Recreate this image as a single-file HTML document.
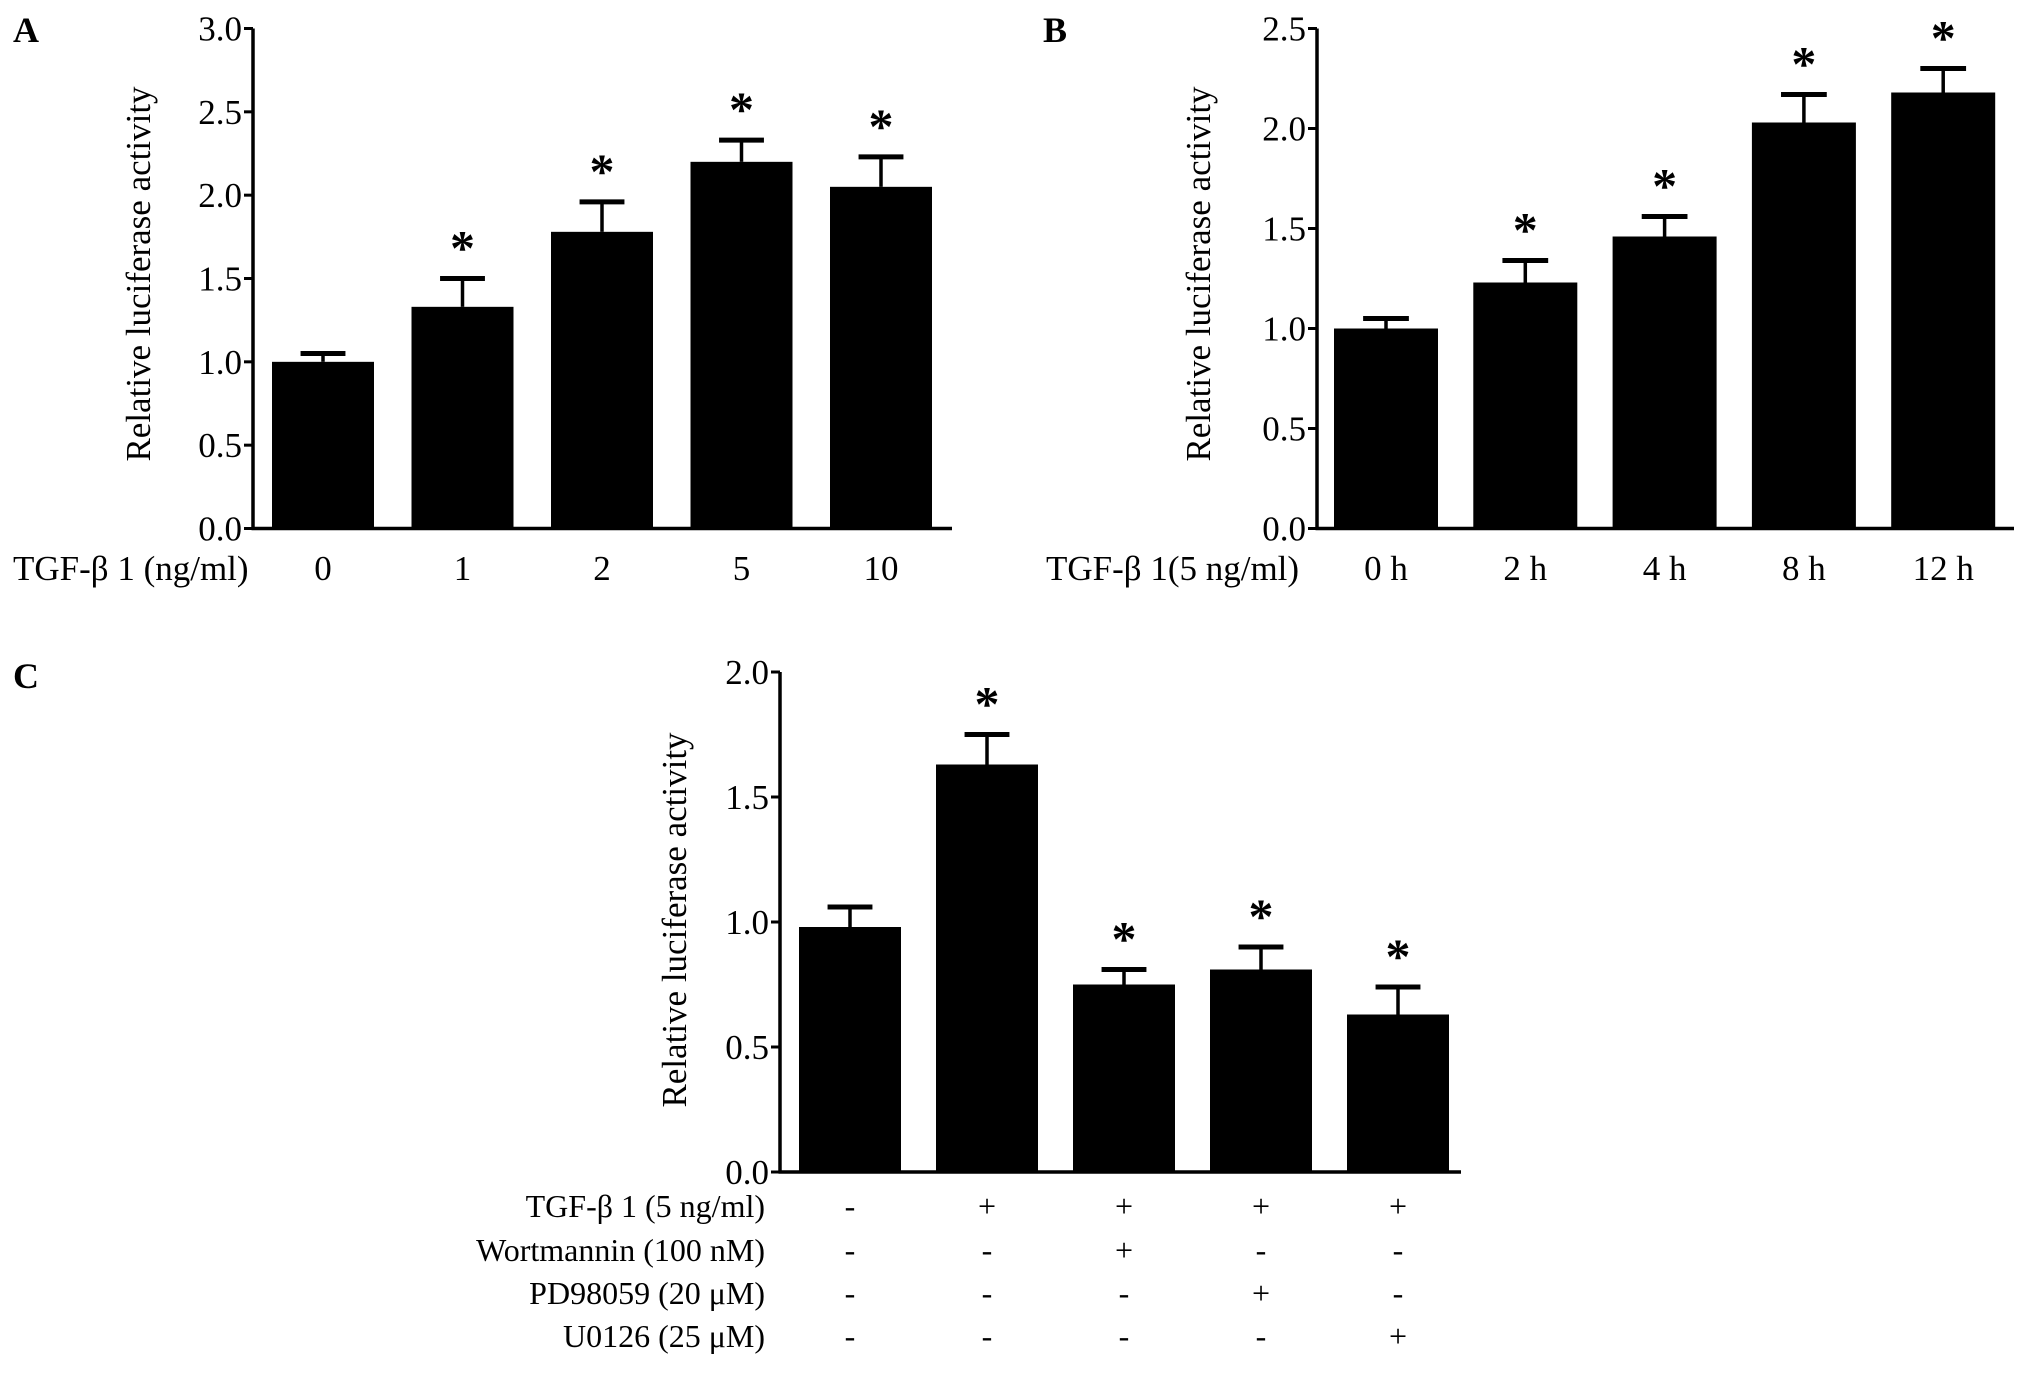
<!DOCTYPE html>
<html><head><meta charset="utf-8"><style>
body{margin:0;background:#fff}
svg text{font-family:"Liberation Serif",serif;fill:#000}
</style></head><body>
<svg id="s" width="2031" height="1368" xmlns="http://www.w3.org/2000/svg"></svg>
<script>
const aCats=["0","1","2","5","10"];
const aVals=[1.0,1.33,1.78,2.2,2.05];
const aErr=[0.05,0.17,0.18,0.13,0.18];
const aStar=[false,true,true,true,true];
const aTicks=["0.0","0.5","1.0","1.5","2.0","2.5","3.0"];
const bCats=["0 h","2 h","4 h","8 h","12 h"];
const bVals=[1.0,1.23,1.46,2.03,2.18];
const bErr=[0.05,0.11,0.1,0.14,0.12];
const bStar=[false,true,true,true,true];
const bTicks=["0.0","0.5","1.0","1.5","2.0","2.5"];
const cVals=[0.98,1.63,0.75,0.81,0.63];
const cErr=[0.08,0.12,0.06,0.09,0.11];
const cStar=[false,true,true,true,true];
const cTicks=["0.0","0.5","1.0","1.5","2.0"];
const cRowLabels=["TGF-β 1 (5 ng/ml)","Wortmannin (100 nM)","PD98059 (20 μM)","U0126 (25 μM)"];
const cRowMarks=[["-","+","+","+","+"],["-","-","+","-","-"],["-","-","-","+","-"],["-","-","-","-","+"]];

const S=document.getElementById('s');
function el(t,a,txt){const e=document.createElementNS('http://www.w3.org/2000/svg',t);for(const k in a)e.setAttribute(k,a[k]);if(txt!=null)e.textContent=txt;S.appendChild(e);return e;}

function panel(p,vals,err,star,ticks,cats,name){
  const max=parseFloat(ticks[ticks.length-1]);
  const y=v=>p.y0-(v/max)*(p.y0-p.top);
  const x=i=>p.first+i*p.step;
  let e=el('line',{x1:p.ax,y1:p.top,x2:p.ax,y2:p.y0+1.5,stroke:'#000','stroke-width':3.5});
  
  e=el('line',{x1:p.ax-1.5,y1:p.y0,x2:p.xend,y2:p.y0,stroke:'#000','stroke-width':3.5});
  
  ticks.forEach(t=>{
    const v=parseFloat(t),yy=y(v);
    e=el('line',{x1:p.ax-9,y1:yy,x2:p.ax,y2:yy,stroke:'#000','stroke-width':3});
    
    e=el('text',{x:p.ax-11,y:yy+12,'text-anchor':'end','font-size':35},t);
    
  });
  vals.forEach((v,i)=>{
    const cx=x(i),w=p.bw,top=y(v),et=y(v+err[i]);
    e=el('line',{x1:cx,y1:top,x2:cx,y2:et,stroke:'#000','stroke-width':3.5});
    
    e=el('line',{x1:cx-w*0.22,y1:et,x2:cx+w*0.22,y2:et,stroke:'#000','stroke-width':5});
    
    e=el('rect',{x:cx-w/2,y:top,width:w,height:p.y0-top,fill:'#000'});
    
    if(star[i]){e=el('text',{x:cx,y:et-14,'text-anchor':'middle','font-size':50,'font-weight':'bold','font-family':'Liberation Sans, sans-serif'},'*');
      }
    if(cats){e=el('text',{x:cx,y:p.labY,'text-anchor':'middle','font-size':35},cats[i]);
      }
  });
  e=el('text',{x:0,y:0,'text-anchor':'middle','font-size':35,transform:`translate(${p.tx},${p.ty}) rotate(-90)`},'Relative luciferase activity');
  
  return x;
}
panel({ax:253,top:28.5,y0:528.5,xend:952,first:323,step:139.5,bw:102,labY:580,tx:150,ty:274},aVals,aErr,aStar,aTicks,aCats,'panel-a');
let t=el('text',{x:13,y:580,'font-size':35},'TGF-β 1 (ng/ml)');
panel({ax:1317,top:28.5,y0:528.5,xend:2014,first:1386,step:139.3,bw:104,labY:580,tx:1210,ty:274},bVals,bErr,bStar,bTicks,bCats,'panel-b');
t=el('text',{x:1046,y:580,'font-size':35},'TGF-β 1(5 ng/ml)');
const cx=panel({ax:780,top:672,y0:1172,xend:1461,first:850,step:137,bw:102,tx:686,ty:920},cVals,cErr,cStar,cTicks,null,'panel-c');
const rowY=[1217,1261,1304,1347];
cRowLabels.forEach((l,r)=>{
  let e=el('text',{x:765,y:rowY[r],'text-anchor':'end','font-size':32},l);
  
  cRowMarks[r].forEach((m,i)=>{
    e=el('text',{x:cx(i),y:rowY[r],'text-anchor':'middle','font-size':32},m);
    
  });
});
[["A",13,42],["B",1043,42],["C",13,688]].forEach(([L,x,y])=>{
  const e=el('text',{x:x,y:y,'font-size':36,'font-weight':'bold'},L);
  
});
</script>
</body></html>
